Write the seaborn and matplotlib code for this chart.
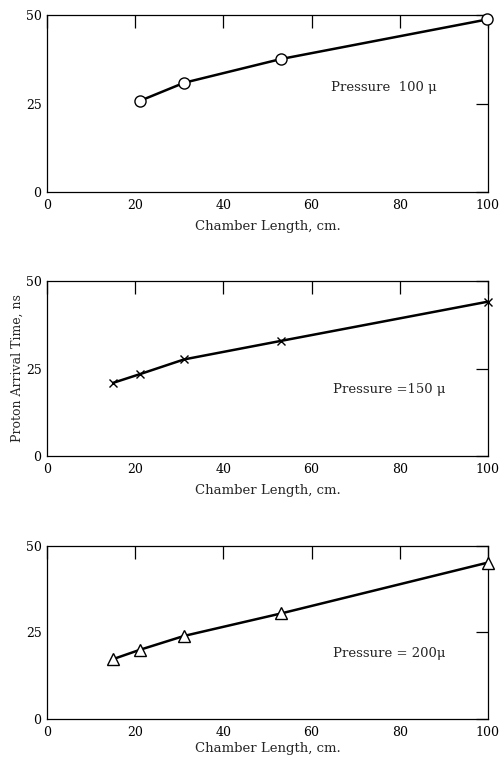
import matplotlib
matplotlib.use("Agg")
import matplotlib.pyplot as plt
import seaborn as sns
import pandas as pd

# Data
length_100 = [21.1, 31.1, 53.0, 99.8]
time_100 = [25.8, 30.9, 37.6, 48.8]

length_150 = [15.0, 21.1, 31.1, 53.1, 100.0]
time_150 = [20.9, 23.4, 27.6, 32.9, 44.1]

length_200 = [15.0, 21.1, 31.1, 53.1, 100.0]
time_200 = [17.3, 20.0, 24.0, 30.5, 45.2]

labels = ["Pressure  100 \u03bc", "Pressure =150 \u03bc", "Pressure = 200\u03bc"]
x_ticks = [0, 20, 40, 60, 80, 100]
y_ticks = [0, 25, 50]

sns.set_style("white")
plt.rcParams["font.family"] = ["DejaVu Serif"]

fig = plt.figure(figsize=(5.01, 7.62), dpi=100)
positions = [
    [0.0938, 0.748, 0.880, 0.232],
    [0.0938, 0.4016, 0.880, 0.2296],
    [0.0938, 0.0565, 0.880, 0.2270],
]
series = [
    (length_100, time_100, "o", 8),
    (length_150, time_150, "x", 6),
    (length_200, time_200, "^", 8),
]
text_pos = [(64.4, 29.7), (64.9, 18.9), (64.9, 19.0)]
xlabel_pads = [6, 6, 2]

for i, (pos, (xs, ys, mk, ms)) in enumerate(zip(positions, series)):
    ax = fig.add_axes(pos)
    df = pd.DataFrame({"x": xs, "y": ys})
    kw = dict(markerfacecolor="white", markeredgecolor="black", markeredgewidth=1.0)
    if mk == "x":
        kw = dict(markeredgecolor="black", markeredgewidth=1.0)
    sns.lineplot(data=df, x="x", y="y", ax=ax, color="black", linewidth=1.8,
                 marker=mk, markersize=ms, clip_on=False, zorder=5, **kw)
    ax.set_xlim(0, 100)
    ax.set_ylim(0, 50)
    ax.set_xticks(x_ticks)
    ax.set_yticks(y_ticks)
    ax.tick_params(axis="both", direction="in", length=9, width=0.9,
                   top=True, right=True, labelsize=9, colors="black")
    ax.tick_params(axis="x", pad=5)
    ax.tick_params(axis="y", pad=4)
    for s in ax.spines.values():
        s.set_color("black")
        s.set_linewidth(0.9)
    ax.set_xlabel("Chamber Length, cm.", fontsize=9.5, labelpad=xlabel_pads[i])
    if i == 1:
        ax.set_ylabel("Proton Arrival Time, ns", fontsize=9, labelpad=1)
    else:
        ax.set_ylabel("")
    ax.text(text_pos[i][0], text_pos[i][1], labels[i], fontsize=9.5,
            va="center", ha="left")

fig.savefig("out.png", dpi=100)
